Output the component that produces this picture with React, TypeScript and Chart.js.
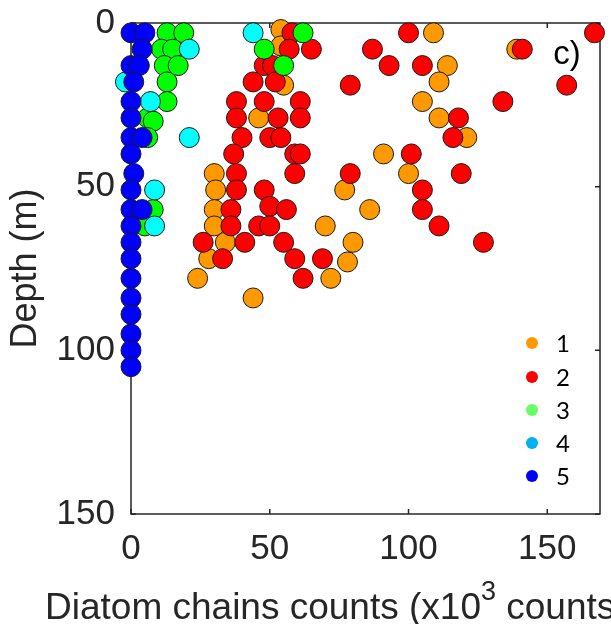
import React, { useEffect, useRef } from "react";
import { Chart, registerables } from "chart.js";

Chart.register(...registerables);

// ---- data ----
const xTicks = [0, 50, 100, 150];
const yTicks = [0, 50, 100, 150];
const groupLabels = ["1", "2", "3", "4", "5"];

// group 1 (orange)
const g1X = [54, 109, 54, 139, 114, 55, 111, 105, 46, 111, 121, 91, 30, 100, 30.5, 77, 30, 86, 30, 70, 34, 80, 28, 78, 24, 72, 44];
const g1D = [2, 3, 7, 8, 13, 19, 18, 24, 29, 29, 35, 40, 46, 46, 51, 51, 57, 57, 62, 62, 67, 67, 72, 73, 78, 78, 84];

// group 2 (red)
const g2X = [58, 100, 167, 57, 65, 87, 141, 48, 51, 93, 105, 44, 52, 79, 157, 38, 48, 61, 134, 38, 53, 61, 118, 40, 50, 54, 116, 37, 59, 61, 101, 38, 59, 79, 119, 38, 48, 105, 36, 50, 56, 105, 36, 46, 50, 111, 26, 41, 55, 127, 33, 59, 69, 62];
const g2D = [3, 3, 3, 8, 8, 8, 8, 13, 13, 13, 13, 18, 18, 19, 19, 24, 24, 24, 24, 29, 29, 29, 29, 35, 35, 35, 35, 40, 40, 40, 40, 46, 46, 46, 46, 51, 51, 51, 57, 56, 57, 57, 62, 62, 62, 62, 67, 67, 67, 67, 72, 72, 72, 78];

// group 3 (green)
const g3X = [13, 19, 62, 11, 15, 48, 12, 17, 55, 13, 13, 6, 8, 6, 8, 5];
const g3D = [3, 3, 3, 8, 8, 8, 13, 13, 13, 18, 24, 29, 30, 35, 57, 62];

// group 4 (cyan)
const g4X = [44, 21, -2, 7, 21, 8.5, 8.5];
const g4D = [3, 8, 18, 24, 35, 51, 62];

// group 5 (blue)
const g5X = [0, 5, 4, 0, 3, 1, 0, 0, 0, 4, 0, 1, 0, 0, 4, 0, 0, 0, 0, 0, 0, 0, 0, 0];
const g5D = [3, 3, 8, 13, 13, 18, 24, 29, 35, 35, 40, 46, 51, 57, 57, 62, 67, 72, 78, 84, 89, 95, 100, 105];

const pointColors = ["#FF9900", "#FF0000", "#00FF00", "#00FFFF", "#0000FF"];
const legendColors = ["#FF9900", "#FF0000", "#66FF66", "#00B0F0", "#0000FF"];

const AXIS = "#262626";
const FONT = "'Liberation Sans', Arial, Helvetica, sans-serif";

const toPts = (xs: number[], ds: number[]) => xs.map((x, i) => ({ x, y: ds[i] }));

const decorPlugin = {
  id: "decor",
  beforeDatasetsDraw(chart: any) {
    const { ctx, chartArea: a, scales } = chart;
    ctx.save();
    ctx.strokeStyle = AXIS;
    ctx.lineWidth = 1.5;
    ctx.strokeRect(a.left, a.top, a.right - a.left, a.bottom - a.top);
    const tl = 5;
    ctx.beginPath();
    xTicks.forEach((v) => {
      const px = scales.x.getPixelForValue(v);
      ctx.moveTo(px, a.bottom);
      ctx.lineTo(px, a.bottom - tl);
      ctx.moveTo(px, a.top);
      ctx.lineTo(px, a.top + tl);
    });
    yTicks.forEach((v) => {
      const py = scales.y.getPixelForValue(v);
      ctx.moveTo(a.left, py);
      ctx.lineTo(a.left + tl, py);
      ctx.moveTo(a.right, py);
      ctx.lineTo(a.right - tl, py);
    });
    ctx.stroke();
    ctx.restore();
  },
  afterDraw(chart: any) {
    const { ctx, chartArea: a } = chart;
    ctx.save();
    ctx.fillStyle = AXIS;
    // y title
    ctx.save();
    ctx.translate(26, (a.top + a.bottom) / 2);
    ctx.rotate(-Math.PI / 2);
    ctx.font = `36px ${FONT}`;
    ctx.textAlign = "center";
    ctx.textBaseline = "middle";
    ctx.fillText("Depth (m)", 0, 0);
    ctx.restore();

    // x title with superscripts
    let x = 45;
    const base = 619;
    ctx.textAlign = "left";
    ctx.textBaseline = "alphabetic";
    const parts: [string, boolean][] = [
      ["Diatom chains counts (x10", false],
      ["3", true],
      [" counts L", false],
      ["-1", true],
      [")", false],
    ];
    parts.forEach(([t, sup]) => {
      ctx.font = sup ? `27px ${FONT}` : `37px ${FONT}`;
      ctx.fillText(t, x, sup ? base - 19 : base);
      x += ctx.measureText(t).width;
    });

    // panel label
    ctx.fillStyle = "#000";
    ctx.font = `33px ${FONT}`;
    ctx.textAlign = "center";
    ctx.fillText("c)", 567, 64);

    // legend
    const ly = [343, 377, 410, 443, 476];
    groupLabels.forEach((lab, i) => {
      ctx.beginPath();
      ctx.fillStyle = legendColors[i];
      ctx.arc(532, ly[i], 6, 0, Math.PI * 2);
      ctx.fill();
      ctx.fillStyle = "#000";
      ctx.font = `24px Lato, 'Open Sans', sans-serif`;
      ctx.textAlign = "left";
      ctx.textBaseline = "middle";
      ctx.fillText(lab, 556, ly[i] + 1);
    });
    ctx.restore();
  },
};

export default function App() {
  const ref = useRef<HTMLCanvasElement>(null);
  useEffect(() => {
    if (!ref.current) return;
    const groups = [
      { x: g1X, d: g1D, order: 5 },
      { x: g2X, d: g2D, order: 4 },
      { x: g3X, d: g3D, order: 3 },
      { x: g4X, d: g4D, order: 2 },
      { x: g5X, d: g5D, order: 1 },
    ];
    const chart = new Chart(ref.current, {
      type: "scatter",
      data: {
        datasets: groups.map((g, i) => ({
          label: groupLabels[i],
          data: toPts(g.x, g.d),
          order: g.order,
          backgroundColor: pointColors[i],
          borderColor: "#1a1a1a",
          borderWidth: 1,
          pointRadius: 10,
          pointHoverRadius: 10,
          clip: false as any,
        })),
      },
      options: {
        responsive: false,
        animation: false,
        layout: { padding: { top: 23, right: 3, left: 0, bottom: 0 } },
        plugins: { legend: { display: false }, tooltip: { enabled: false } },
        scales: {
          x: {
            type: "linear",
            min: 0,
            max: 169,
            afterBuildTicks: (s: any) => {
              s.ticks = xTicks.map((v) => ({ value: v }));
            },
            afterFit: (s: any) => {
              s.height = 110;
              s.paddingLeft = 0;
              s.paddingRight = 0;
            },
            grid: { display: false, drawTicks: false },
            border: { display: false },
            ticks: {
              font: { family: FONT, size: 35 },
              color: AXIS,
              padding: 14,
              maxRotation: 0,
              autoSkip: false,
            },
          },
          y: {
            type: "linear",
            reverse: true,
            min: 0,
            max: 150,
            afterBuildTicks: (s: any) => {
              s.ticks = yTicks.map((v) => ({ value: v }));
            },
            afterFit: (s: any) => {
              s.width = 131;
              s.paddingTop = 0;
              s.paddingBottom = 0;
            },
            grid: { display: false, drawTicks: false },
            border: { display: false },
            ticks: {
              font: { family: FONT, size: 35 },
              color: AXIS,
              padding: 16,
              autoSkip: false,
            },
          },
        },
      },
      plugins: [decorPlugin],
    });
    return () => chart.destroy();
  }, []);
  return (
    <div style={{ position: "fixed", left: 0, top: 0, width: 611, height: 624, background: "#fff" }}>
      <canvas ref={ref} width={611} height={624} style={{ display: "block" }} />
    </div>
  );
}
